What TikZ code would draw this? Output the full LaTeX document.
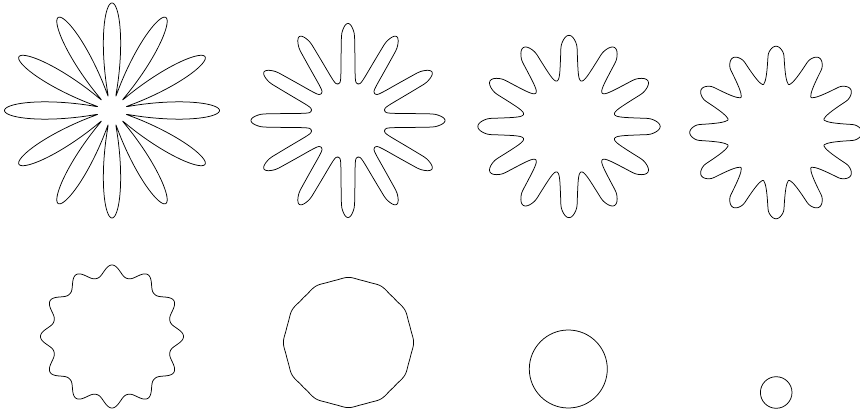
\documentclass[tikz,border=0pt]{standalone}
\begin{document}
\begin{tikzpicture}[x=1pt,y=-1pt,
  curve/.style={line width=0.75pt, black, line join=round},
  declare function={
    pet(\qt,\qa,\qb,\qp)=\qa+\qb*(max((1+cos(12*\qt))/2,0.00001))^\qp;
    phi(\qt)=abs(mod(\qt+15,30)-15);
    stad(\qf,\ql,\qw)=(tan(\qf)<=\qw/\ql) ? (\ql*cos(\qf)+sqrt(max(\qw*\qw-\ql*\ql*sin(\qf)*sin(\qf),0))) : (\qw/max(sin(\qf),0.05));
    gear(\qt,\qa,\ql,\qw,\qn)=(\ql+\qw)*((\qa/(\ql+\qw))^\qn+(min(stad(phi(\qt),\ql,\qw),\ql+\qw)/(\ql+\qw))^\qn)^(1/\qn);
  }]
\useasboundingbox (0,0) rectangle (860,414);
\fill[white] (0,0) rectangle (860,414);
% top row
\draw[curve, shift={(112,110.5)}] plot[domain=0:360, samples=721] (\x:{pet(\x,15,92.5,0.85)}) -- cycle;
\draw[curve, shift={(348,120.5)}] plot[domain=0:360, samples=721]
  (\x:{0.6*gear(\x,38,90,7,9)+0.4*pet(\x,38,59,1.9)}) -- cycle;
\draw[curve, shift={(569,126.5)}] plot[domain=0:360, samples=721]
  (\x:{0.6*gear(\x,46,82.5,8.5,6)+0.4*pet(\x,47,44,1.3)}) -- cycle;
\draw[curve, shift={(776,132.5)}] plot[domain=0:360, samples=721]
  (\x:{0.6*gear(\x,48,77,8,4)+0.4*pet(\x,49,36,1)}) -- cycle;
% bottom row
\draw[curve, shift={(112,336.5)}] plot[domain=0:360, samples=721] (\x:{pet(\x,60,11.5,1.2)}) -- cycle;
\draw[curve, shift={(348.5,342.5)}] plot[domain=0:360, samples=721] (\x:{pet(\x,63.5,1.6,1.6)}) -- cycle;
\draw[curve] (568.3,369) circle[radius=39];
\draw[curve] (776.2,392.5) circle[radius=15.8];
\end{tikzpicture}
\end{document}
